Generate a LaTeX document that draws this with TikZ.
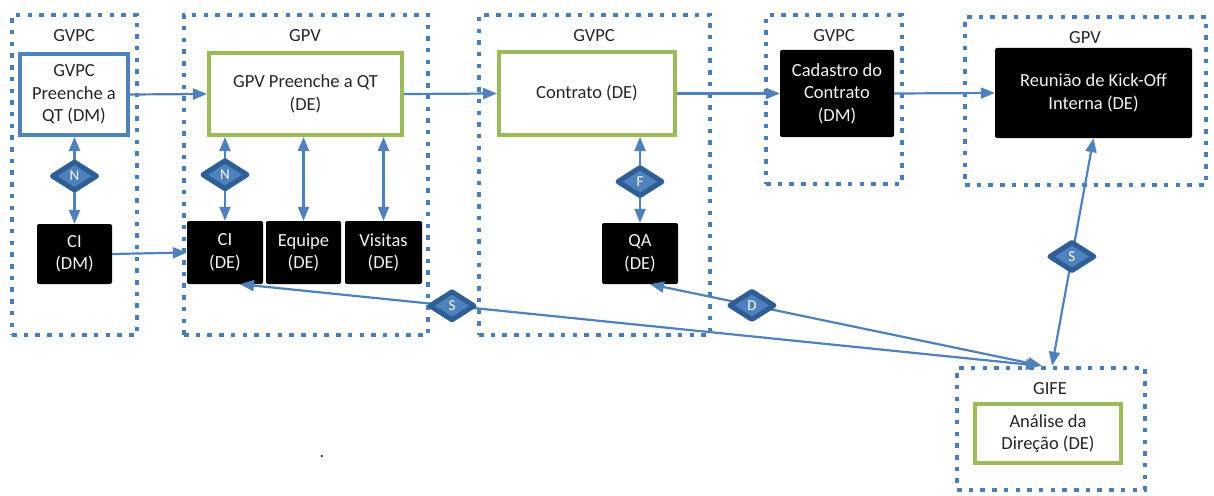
\documentclass[tikz,border=0pt]{standalone}
\usepackage{fontspec}
\setmainfont{Carlito}
\usetikzlibrary{shapes.geometric,arrows.meta,calc}
\definecolor{lblue}{HTML}{4F81BD}
\definecolor{dblue}{HTML}{2E5E95}
\definecolor{dotblue}{HTML}{4A7EBB}
\definecolor{ogreen}{HTML}{9BBB59}
\definecolor{txt}{HTML}{262626}
\definecolor{wtxt}{HTML}{F2F2F2}
\begin{document}
\begin{tikzpicture}[x=1pt,y=-1pt,
  font=\fontsize{18.5}{22.5}\selectfont,
  cont/.style={draw=dotblue, line width=4.5pt, dash pattern=on 4.5pt off 7.2pt, inner sep=0pt, rectangle},
  lbl/.style={text=txt, inner sep=0pt},
  gbox/.style={draw=ogreen, line width=4pt, fill=white, align=center, text=txt, inner sep=0pt, rectangle},
  bbox/.style={fill=black, rounded corners=2pt, text=wtxt, align=center, inner sep=0pt, rectangle},
  tipa/.tip={Triangle[length=14pt,width=11pt]},
  conn/.style={draw=lblue, line width=2.2pt, {tipa}-{tipa}},
  conn1/.style={draw=lblue, line width=2.2pt, -{tipa}},
  diam/.style={diamond, draw=dblue, fill=lblue, line width=5pt, line join=round, minimum width=46pt, minimum height=30pt, inner sep=0pt, text=white, font=\fontsize{15}{15}\selectfont}
]
\useasboundingbox (0,0) rectangle (1214,495);

% containers
\node[cont, minimum width=125pt, minimum height=320pt] (c1) at (74.5,175) {};
\node[cont, minimum width=244pt, minimum height=320pt] (c2) at (306,175) {};
\node[cont, minimum width=231pt, minimum height=320pt] (c3) at (594.5,175) {};
\node[cont, minimum width=136pt, minimum height=169pt] (c4) at (834,99.5) {};
\node[cont, minimum width=241pt, minimum height=168pt] (c5) at (1085.5,101) {};
\node[cont, minimum width=188pt, minimum height=122pt] (c6) at (1051,429) {};

% container labels
\node[lbl] (l1) at (74,36) {GVPC};
\node[lbl] (l2) at (305,36) {GPV};
\node[lbl] (l3) at (594,36) {GVPC};
\node[lbl] (l4) at (834,36) {GVPC};
\node[lbl] (l5) at (1085,38) {GPV};
\node[lbl] (l6) at (1050,389) {GIFE};

% main boxes
\node[gbox, draw=lblue, minimum width=108pt, minimum height=81pt] (b1) at (74,94.5) {GVPC\\Preenche a\\QT (DM)};
\node[gbox, minimum width=193pt, minimum height=82pt] (b2) at (305.5,94) {GPV Preenche a QT\\(DE)};
\node[gbox, minimum width=176pt, minimum height=83pt] (b3) at (587,93.5) {Contrato (DE)};
\node[bbox, minimum width=114pt, minimum height=87pt] (b4) at (837,93.5) {Cadastro do\\Contrato\\(DM)};
\node[bbox, minimum width=197pt, minimum height=90pt] (b5) at (1093.5,93) {Reunião de Kick-Off\\Interna (DE)};
\node[gbox, minimum width=146pt, minimum height=59pt] (b6) at (1048,433.5) {Análise da\\Direção (DE)};

% black boxes
\node[bbox, minimum width=75pt, minimum height=60pt] (k1) at (74.5,254) {CI\\(DM)};
\node[bbox, minimum width=76pt, minimum height=63pt] (k2) at (225,252.5) {CI\\(DE)};
\node[bbox, minimum width=75pt, minimum height=63pt] (k3) at (303.5,252.5) {Equipe\\(DE)};
\node[bbox, minimum width=77pt, minimum height=63pt] (k4) at (383.5,252.5) {Visitas\\(DE)};
\node[bbox, minimum width=76pt, minimum height=61pt] (k5) at (640,253.5) {QA\\(DE)};

% horizontal flow
\draw[conn1] (b1.east) -- (b2.west);
\draw[conn1] (b2.east) -- (b3.west);
\draw[conn1] (b3.east) -- (b4.west);
\draw[conn1] (b4.east) -- (b5.west);
\draw[conn1] (k1.east) -- (k2.west);

% vertical links
\draw[conn] (b1.south -| k1.north) -- node[diam, pos=.45] (n1) {N} (k1.north);
\draw[conn] (b2.south -| k2.north) -- node[diam, pos=.45] (n2) {N} (k2.north);
\draw[conn] (b2.south -| k3.north) -- (k3.north);
\draw[conn] (b2.south -| k4.north) -- (k4.north);
\draw[conn] (b3.south -| k5.north) -- node[diam, pos=.52] (f1) {F} (k5.north);

% links to GIFE
\draw[conn] ([xshift=15pt]k2.south) -- node[diam, pos=.265] (s1) {S} ([xshift=-11pt]c6.north);
\draw[conn] ([xshift=10pt]k5.south) -- node[diam, pos=.26] (d1) {D} ([xshift=-9pt]c6.north);
\draw[conn] (b5.south) -- node[diam, pos=.52] (s2) {S} ([xshift=1pt]c6.north);

% stray dot
\node[anchor=base, inner sep=0pt, text=txt] (dot) at (322,457) {.};
\end{tikzpicture}
\end{document}
